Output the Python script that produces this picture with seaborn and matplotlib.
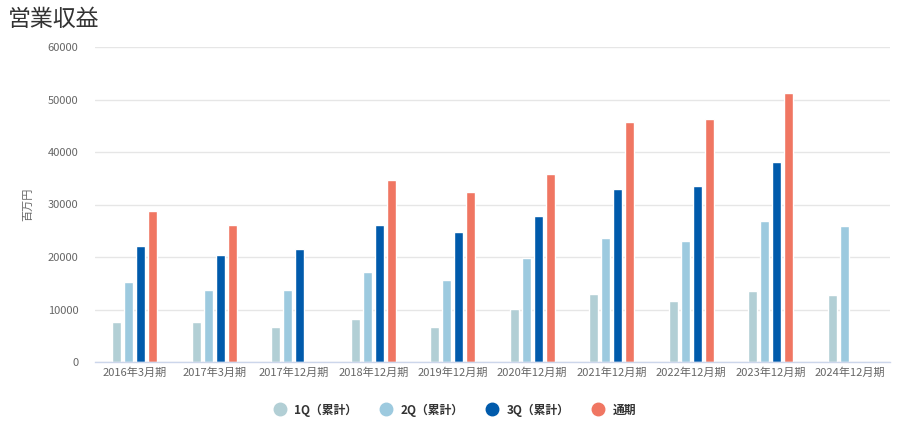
import numpy as np
import pandas as pd
import matplotlib
matplotlib.use("Agg")
import matplotlib.pyplot as plt
from matplotlib.lines import Line2D
import seaborn as sns

categories = ["2016年3月期", "2017年3月期", "2017年12月期", "2018年12月期", "2019年12月期",
              "2020年12月期", "2021年12月期", "2022年12月期", "2023年12月期", "2024年12月期"]
series_names = ["1Q（累計）", "2Q（累計）", "3Q（累計）", "通期"]
q1 = [7600, 7600, 6700, 8200, 6700, 10100, 12950, 11600, 13500, 12750]
q2 = [15250, 13700, 13700, 17100, 15600, 19800, 23600, 23050, 26900, 25900]
q3 = [22100, 20400, 21500, 26100, 24800, 27800, 32950, 33500, 38100, np.nan]
full = [28800, 26100, np.nan, 34700, 32400, 35800, 45700, 46300, 51250, np.nan]
colors = ["#b2cfd5", "#9dcadf", "#005aab", "#f07662"]

rows = []
for name, vals in zip(series_names, [q1, q2, q3, full]):
    for c, v in zip(categories, vals):
        rows.append({"period": c, "series": name, "value": v})
df = pd.DataFrame(rows)

sns.set_style("white")
plt.rcParams["font.family"] = ["Noto Sans CJK JP", "DejaVu Sans"]

fig = plt.figure(figsize=(9.04, 4.30), dpi=100)
ax = fig.add_axes([95 / 904, 1 - 362 / 430, 795 / 904, 315 / 430])

sns.barplot(data=df, x="period", y="value", hue="series", order=categories,
            hue_order=series_names, palette=colors, width=0.6, gap=0.25,
            saturation=1, ax=ax, legend=False, errorbar=None)

ax.set_ylim(0, 60000)
ax.set_xlim(-0.5, len(categories) - 0.5)
ax.set_yticks(range(0, 60001, 10000))
ax.set_yticklabels([str(v) for v in range(0, 60001, 10000)])
ax.grid(axis="y", color="#e6e6e6", linewidth=1)
ax.set_axisbelow(True)
for s in ["top", "right", "left"]:
    ax.spines[s].set_visible(False)
ax.spines["bottom"].set_color("#ccd6eb")
ax.spines["bottom"].set_linewidth(1)
ax.tick_params(axis="both", length=0, colors="#666666", labelsize=8)
ax.tick_params(axis="y", pad=12)
ax.tick_params(axis="x", pad=4)
ax.set_xlabel("")
ax.set_ylabel("百万円", color="#666666", fontsize=8, labelpad=10)

fig.text(8 / 904, 1 - 19 / 430, "営業収益", fontsize=16.5, color="#333333",
         va="center", ha="left")

handles = [Line2D([0], [0], marker="o", linestyle="", markersize=9,
                  markerfacecolor=c, markeredgecolor=c) for c in colors]
leg = fig.legend(handles, series_names, loc="center", bbox_to_anchor=(0.5, 1 - 410 / 430),
                 ncol=4, frameon=False, fontsize=8.5, handletextpad=0.2, columnspacing=1.45)
for t in leg.get_texts():
    t.set_fontweight("bold")
    t.set_color("#333333")

fig.savefig("out.png", dpi=100)
